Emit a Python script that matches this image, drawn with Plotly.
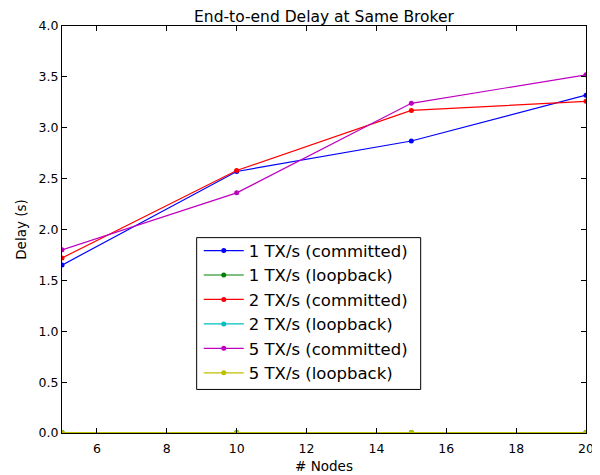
import plotly.graph_objects as go

nodes = [5, 10, 15, 20]
tx1_committed = [1.65, 2.57, 2.87, 3.32]
tx1_loopback = [0.004, 0.004, 0.004, 0.004]
tx2_committed = [1.72, 2.58, 3.17, 3.26]
tx2_loopback = [0.004, 0.004, 0.004, 0.004]
tx5_committed = [1.80, 2.36, 3.24, 3.52]
tx5_loopback = [0.004, 0.004, 0.006, 0.004]

series = [
    ("1 TX/s (committed)", tx1_committed, "#0000ff"),
    ("1 TX/s (loopback)", tx1_loopback, "#008000"),
    ("2 TX/s (committed)", tx2_committed, "#ff0000"),
    ("2 TX/s (loopback)", tx2_loopback, "#00bfbf"),
    ("5 TX/s (committed)", tx5_committed, "#bf00bf"),
    ("5 TX/s (loopback)", tx5_loopback, "#bfbf00"),
]

fig = go.Figure()
for name, vals, col in series:
    fig.add_trace(go.Scatter(x=nodes, y=vals, name=name, mode="lines+markers",
                             line=dict(color=col, width=1.2),
                             marker=dict(color=col, size=5), cliponaxis=True))

axis_common = dict(showline=True, linecolor="black", linewidth=1, mirror="ticks",
                   ticks="inside", ticklen=5, tickcolor="black", showgrid=False,
                   zeroline=False, automargin=False, tickfont=dict(size=12.5, color="black"))

# legend frame (matplotlib-style box) drawn as a shape under the legend entries
fig.add_shape(type="rect", xref="paper", yref="paper",
              x0=0.257, x1=0.6845, y0=0.107, y1=0.480,
              line=dict(color="black", width=1), fillcolor="white", layer="above")

# page body has an 8px default margin, so the figure is sized to fit the 600x475 window
fig.update_layout(
    width=592, height=467,
    margin=dict(l=54, r=14, t=18, b=42, autoexpand=False),
    paper_bgcolor="white", plot_bgcolor="white",
    font=dict(family="DejaVu Sans", color="black"),
    title=dict(text="End-to-end Delay at Same Broker", xref="paper", x=0.5, xanchor="center",
               yref="container", y=0.981, yanchor="middle", font=dict(size=15.5)),
    xaxis=dict(range=[5, 20], tickvals=[6, 8, 10, 12, 14, 16, 18, 20], ticklabelstandoff=4,
               title=dict(text="# Nodes", font=dict(size=13.5), standoff=6), **axis_common),
    yaxis=dict(range=[0, 4], tickvals=[0, 0.5, 1, 1.5, 2, 2.5, 3, 3.5, 4], tickformat=".1f",
               title=dict(text="Delay (s)", font=dict(size=13.5), standoff=8), **axis_common),
    legend=dict(x=0.261, y=0.4906, xanchor="left", yanchor="top",
                borderwidth=0, bgcolor="rgba(0,0,0,0)",
                font=dict(size=16.5), tracegroupgap=0, itemwidth=40),
    showlegend=True,
)

fig.write_html("out.html")
